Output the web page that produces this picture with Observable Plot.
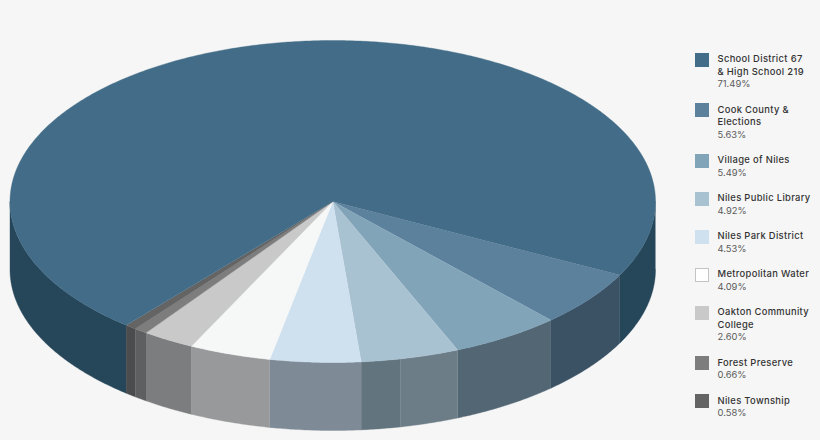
<!DOCTYPE html>
<html>
<head>
<meta charset="utf-8">
<script src="https://cdn.jsdelivr.net/npm/d3@7"></script>
<script src="https://cdn.jsdelivr.net/npm/@observablehq/plot@0.6"></script>
<style>
  html, body { margin: 0; padding: 0; background: #f6f6f6; }
  #wrap { position: relative; width: 820px; height: 440px; overflow: hidden; }
  #chart svg { display: block; background: transparent; }
  #legend { position: absolute; left: 694.5px; top: 53px; font-family: Inter, "Open Sans", sans-serif; font-size: 9.4px; line-height: 12.5px; }
  .item { position: relative; padding-left: 23px; margin-bottom: 13px; white-space: pre-line; color: #333; font-weight: 500; letter-spacing: 0.33px; }
  .item i { position: absolute; left: 0; top: -0.5px; width: 14px; height: 14px; box-sizing: border-box; }
  .item span { display: block; font-weight: 400; color: #5a5a5a; letter-spacing: 0; }
</style>
</head>
<body>
<div id="wrap"><div id="chart"></div><div id="legend"></div></div>
<script>
// Slices, clockwise from the start of Cook County
const names = ["Cook County & Elections", "Village of Niles", "Niles Public Library", "Niles Park District", "Metropolitan Water", "Oakton Community College", "Forest Preserve", "Niles Township", "School District 67 & High School 219"];
const legendOrder = [8, 0, 1, 2, 3, 4, 5, 6, 7];
const legendLabels = ["Cook County &\nElections", "Village of Niles", "Niles Public Library", "Niles Park District", "Metropolitan Water", "Oakton Community\nCollege", "Forest Preserve", "Niles Township", "School District 67\n& High School 219"];
const shares = [5.63, 5.49, 4.92, 4.53, 4.09, 2.60, 0.66, 0.58, 71.49];
const topColors = ["#5c819d", "#82a4b8", "#a9c2d2", "#cfe0ef", "#f6f7f7", "#c9c9c9", "#7d7d7d", "#646464", "#426c87"];

// Visible rim: the library's rim has two tones, split at 2.97 of its 4.92 points
const rimShares = [5.63, 5.49, 2.97, 1.95, 4.53, 4.09, 2.60, 0.66, 0.58, 71.49];
const rimColors = ["#3a5264", "#526674", "#6c7d88", "#62747e", "#7e8b97", "#98999b", "#7c7d7e", "#5e5f60", "#4b4c4d", "#26465a"];

const startAngle = 27.2;   // degrees clockwise from east
const rimDepth = 68 / 161; // rim height in disc radii

const total = d3.sum(shares);
const rad = (deg) => deg * Math.PI / 180;

function spans(values) {
  let a = startAngle;
  return values.map((v) => { const s = [a, a + v / total * 360]; a = s[1]; return s; });
}
function arc(a0, a1) {
  const n = Math.max(2, Math.ceil(a1 - a0) * 2);
  return d3.range(n + 1).map((i) => a0 + (a1 - a0) * i / n);
}

const topRows = [];
spans(shares).forEach(([a0, a1], i) => {
  topRows.push({ id: i, color: topColors[i], x: 0, y: 0 });
  for (const a of arc(a0, a1)) topRows.push({ id: i, color: topColors[i], x: Math.cos(rad(a)), y: Math.sin(rad(a)) });
});

const rimRows = [];
function addRim(id, color, a0, a1) {
  const as = arc(a0, a1);
  for (const a of as) rimRows.push({ id, color, x: Math.cos(rad(a)), y: Math.sin(rad(a)) });
  for (const a of as.reverse()) rimRows.push({ id, color, x: Math.cos(rad(a)), y: Math.sin(rad(a)) + rimDepth });
}
spans(rimShares).forEach(([a0, a1], i) => {
  if (i === rimShares.length - 1) {
    addRim("rim-l", rimColors[i], a0, 180);
    addRim("rim-r", rimColors[i], 360, a1);
  } else addRim("rim" + i, rimColors[i], a0, a1);
});

const chart = Plot.plot({
  width: 820, height: 440, margin: 0,
  x: { domain: [-1, 1], range: [9.5, 655], axis: null },
  y: { domain: [-1, 1], range: [40, 362], axis: null },
  color: { type: "identity" },
  marks: [
    Plot.line(rimRows, { x: "x", y: "y", z: "id", fill: "color", stroke: "color", strokeWidth: 0.4 }),
    Plot.line(topRows, { x: "x", y: "y", z: "id", fill: "color", stroke: "color", strokeWidth: 0.4 })
  ]
});
document.getElementById("chart").append(chart);

const legend = d3.select("#legend");
for (const i of legendOrder) {
  const item = legend.append("div").attr("class", "item").text(legendLabels[i]);
  const isWater = names[i] === "Metropolitan Water";
  item.append("i").style("background", isWater ? "#ffffff" : topColors[i]).style("border", isWater ? "1px solid #c4c4c4" : null);
  item.append("span").text(shares[i].toFixed(2) + "%");
}
</script>
</body>
</html>
